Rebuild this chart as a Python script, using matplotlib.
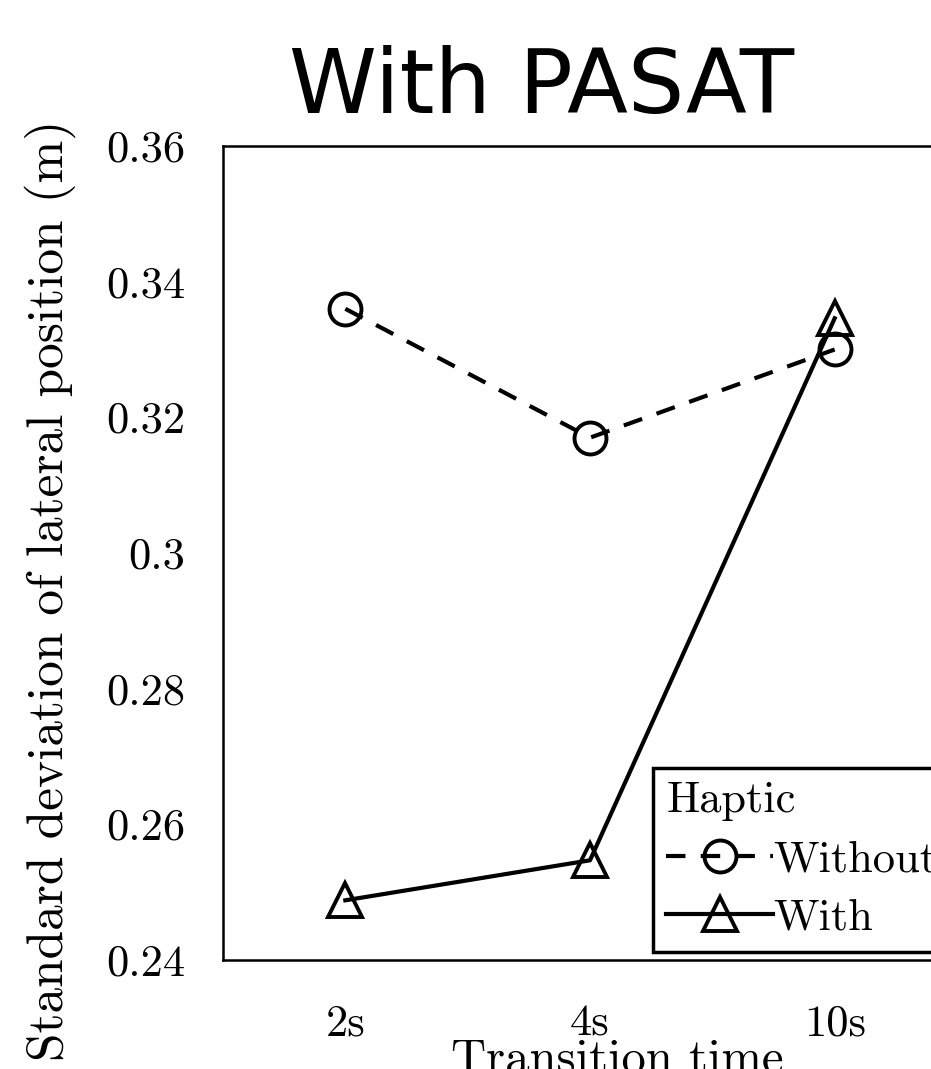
import matplotlib.pyplot as plt

plt.rcParams['font.family'] = ['cmr10', 'DejaVu Serif']
plt.rcParams['lines.scale_dashes'] = False

times = ['2s', '4s', '10s']
without_haptic = [0.336, 0.317, 0.330]
with_haptic = [0.2488, 0.2547, 0.3346]
y_ticks = [0.24, 0.26, 0.28, 0.30, 0.32, 0.34, 0.36]
y_tick_labels = ['0.24', '0.26', '0.28', '0.3', '0.32', '0.34', '0.36']

fig = plt.figure(figsize=(9.31, 10.69), dpi=100)
ax = fig.add_axes([223 / 931, 1 - 960 / 1069, 734 / 931, 814 / 1069])

x = range(len(times))
ax.plot(x, without_haptic, color='black', lw=3, dashes=(14, 11),
        marker='o', ms=23, mfc='none', mec='black', mew=2.8, label='Without')
ax.plot(x, with_haptic, color='black', lw=3,
        marker='^', ms=25, mfc='none', mec='black', mew=2.8, label='With')

ax.set_xlim(-0.5, 2.5)
ax.set_ylim(0.24, 0.36)
ax.set_xticks(list(x))
ax.set_xticklabels(times)
ax.set_yticks(y_ticks)
ax.set_yticklabels(y_tick_labels)
ax.tick_params(length=0, labelsize=32)
ax.tick_params(axis='y', pad=27)
ax.tick_params(axis='x', pad=32)
for s in ax.spines.values():
    s.set_linewidth(1.8)

leg = ax.legend(title='Haptic', loc='upper left', bbox_to_anchor=(653 / 931, 1 - 768 / 1069),
                bbox_transform=fig.transFigure, borderaxespad=0, fontsize=32, title_fontsize=32,
                fancybox=False, framealpha=1, edgecolor='black', numpoints=1,
                handlelength=2.4, handletextpad=0.0, borderpad=0.3, labelspacing=0.42)
leg.get_frame().set_linewidth(2.5)
leg._legend_box.align = 'left'

fig.text(542 / 931, 1 - 113 / 1069, 'With PASAT', family='DejaVu Sans', fontsize=64,
         ha='center', va='baseline')
fig.text(50 / 931, 1 - 590 / 1069, 'Standard deviation of lateral position (m)',
         fontsize=37, rotation=90, ha='center', va='center')
fig.text(617 / 931, 1 - 1038 / 1069, 'Transition time', fontsize=35, ha='center', va='top')

plt.savefig('out.png', dpi=100)
